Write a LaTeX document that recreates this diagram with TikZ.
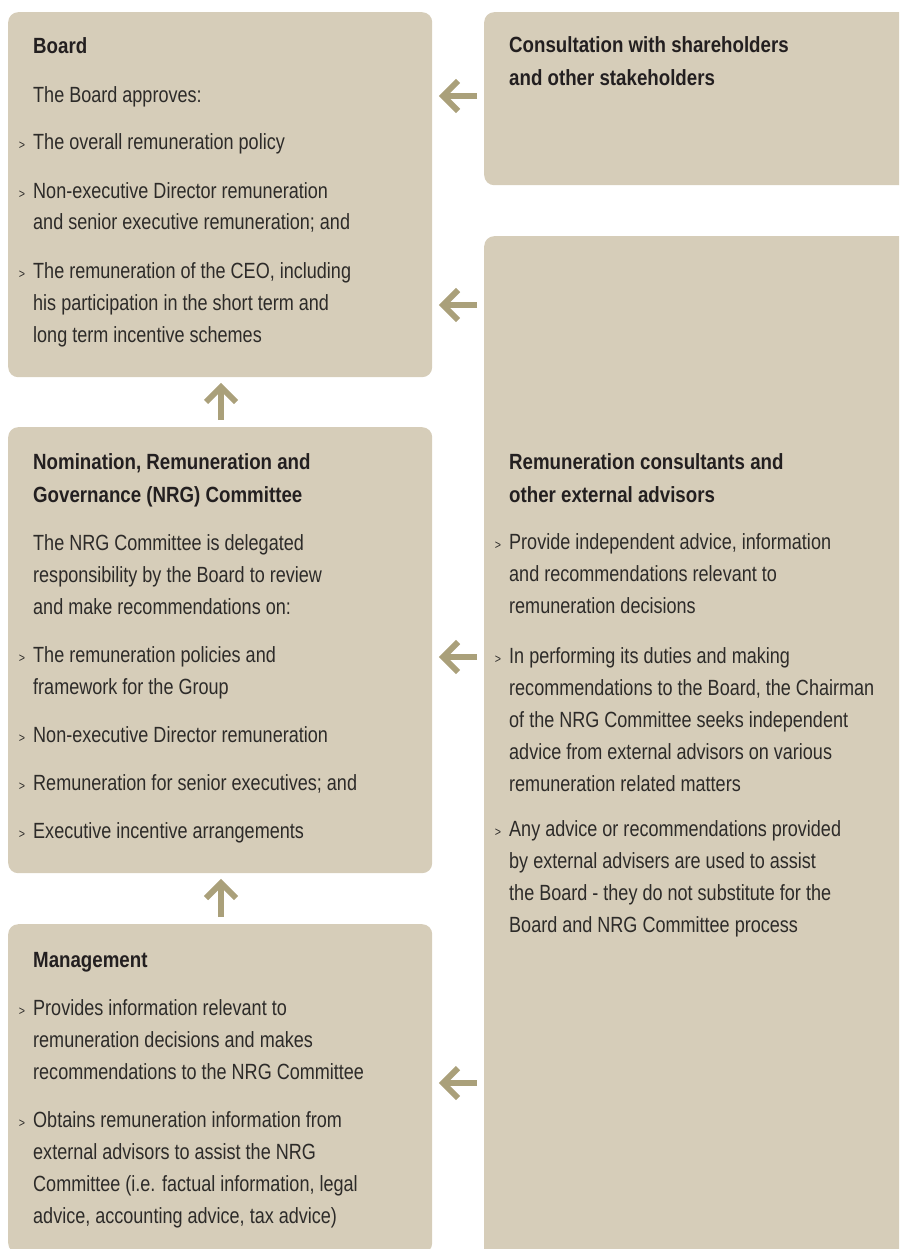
\documentclass[tikz,border=0pt]{standalone}
\usepackage{fontspec}
\setmainfont{Liberation Sans}[FakeStretch=0.82,BoldFeatures={FakeStretch=0.85}]
\usetikzlibrary{calc}
\definecolor{boxfill}{RGB}{214,205,185}
\definecolor{arrowc}{RGB}{170,160,122}
\definecolor{txtc}{RGB}{45,43,41}
\definecolor{headc}{RGB}{35,31,32}
\newcommand{\bul}{\llap{\fontsize{13}{13}\selectfont>\hspace{8pt}}}
\begin{document}
\begin{tikzpicture}[x=1pt,y=-1pt,
  box/.style={rectangle, fill=boxfill, rounded corners=10pt, anchor=north west, inner sep=0pt, draw=none},
  txt/.style={anchor=base west, inner sep=0pt, align=left, text=txtc, font=\fontsize{22}{32}\selectfont},
  head/.style={txt, text=headc, font=\fontsize{22}{33}\selectfont\bfseries},
  arrline/.style={draw=arrowc, line width=6pt, line join=miter}]
\useasboundingbox (0,0) rectangle (899,1249);
\clip (0,0) rectangle (899,1249);
% boxes
\node[box, minimum width=424pt, minimum height=365pt] (board) at (8,12) {};
\node[box, minimum width=440pt, minimum height=173pt] (consult) at (484,12) {};
\node[box, minimum width=440pt, minimum height=1030pt] (advisors) at (484,236) {};
\node[box, minimum width=424pt, minimum height=446pt] (nrg) at (8,427) {};
\node[box, minimum width=424pt, minimum height=329pt] (mgmt) at (8,924) {};
% (multi-line nodes are placed at the baseline of their last line)
% Board text
\node[head] (boardT) at (33,54) {Board};
\node[txt] (boardP) at (33,103) {The Board approves:};
\node[txt] (boardB1) at (33,150) {\bul The overall remuneration policy};
\node[txt] (boardB2) at (33,230) {\bul Non-executive Director remuneration\\and senior executive remuneration; and};
\node[txt] (boardB3) at (33,342) {\bul The remuneration of the CEO, including\\his participation in the short term and\\long term incentive schemes};
% Consultation
\node[head] (consT) at (509,86) {Consultation with shareholders\\and other stakeholders};
% NRG
\node[head] (nrgT) at (33,502) {Nomination, Remuneration and\\Governance (NRG) Committee};
\node[txt] (nrgP) at (33,614) {The NRG Committee is delegated\\responsibility by the Board to review\\and make recommendations on:};
\node[txt] (nrgB1) at (33,694) {\bul The remuneration policies and\\framework for the Group};
\node[txt] (nrgB2) at (33,742) {\bul Non-executive Director remuneration};
\node[txt] (nrgB3) at (33,790) {\bul Remuneration for senior executives; and};
\node[txt] (nrgB4) at (33,838) {\bul Executive incentive arrangements};
% Management
\node[head] (mgmtT) at (33,967) {Management};
\node[txt] (mgmtB1) at (33,1079) {\bul Provides information relevant to\\remuneration decisions and makes\\recommendations to the NRG Committee};
\node[txt] (mgmtB2) at (33,1223) {\bul Obtains remuneration information from\\external advisors to assist the NRG\\Committee (i.e. factual information, legal\\advice, accounting advice, tax advice)};
% Advisors
\node[head] (advT) at (509,502) {Remuneration consultants and\\other external advisors};
\node[txt] (advB1) at (509,613) {\bul Provide independent advice, information\\and recommendations relevant to\\remuneration decisions};
\node[txt] (advB2) at (509,791) {\bul In performing its duties and making\\recommendations to the Board, the Chairman\\of the NRG Committee seeks independent\\advice from external advisors on various\\remuneration related matters};
\node[txt] (advB3) at (509,932) {\bul Any advice or recommendations provided\\by external advisers are used to assist\\the Board - they do not substitute for the\\Board and NRG Committee process};
% arrow coordinates
\coordinate (a1s) at (477,96);   \coordinate (a1t) at (443,96);
\coordinate (a2s) at (477,305);  \coordinate (a2t) at (443,305);
\coordinate (a3s) at (477,657);  \coordinate (a3t) at (443,657);
\coordinate (a4s) at (477,1083); \coordinate (a4t) at (443,1083);
\coordinate (u1s) at (221,420);  \coordinate (u1t) at (221,387);
\coordinate (u2s) at (221,917);  \coordinate (u2t) at (221,883);
% left arrows
\foreach \a in {a1,a2,a3,a4}{
  \draw[arrline] (\a s) -- (\a t);
  \draw[arrline] ([shift={(15,-15)}]\a t) -- (\a t) -- ([shift={(15,15)}]\a t);
}
% up arrows
\foreach \a in {u1,u2}{
  \draw[arrline] (\a s) -- (\a t);
  \draw[arrline] ([shift={(-15,15)}]\a t) -- (\a t) -- ([shift={(15,15)}]\a t);
}
\end{tikzpicture}
\end{document}
